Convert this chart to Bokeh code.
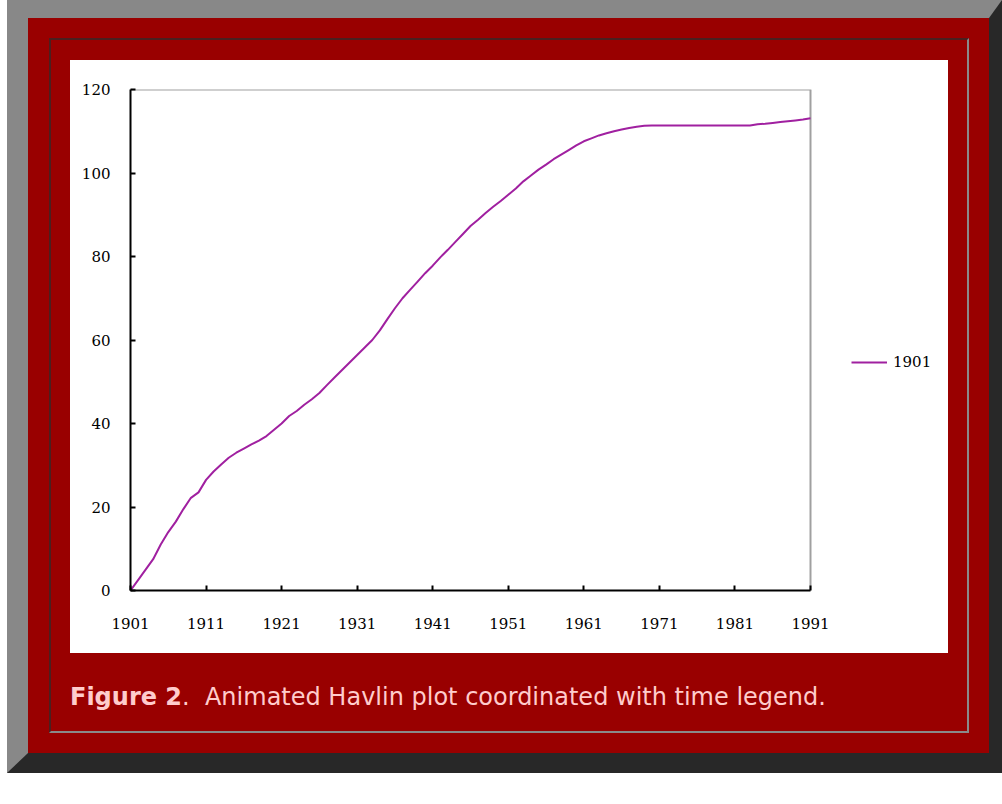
from bokeh.plotting import figure
from bokeh.models import Range1d, FixedTicker, Legend, LegendItem, Div, Column, ColumnDataSource
from bokeh.embed import file_html
from bokeh.resources import INLINE

# ---- data ----
years = list(range(1901, 1992))
values = [
    0.0, 2.5, 5.0, 7.5, 11.0, 14.0, 16.5, 19.5, 22.2, 23.5,      # 1901-1910
    26.5, 28.5, 30.2, 31.8, 33.0, 34.0, 35.0, 35.9, 37.0, 38.5,  # 1911-1920
    40.0, 41.8, 43.0, 44.5, 45.8, 47.3, 49.2, 51.0, 52.8, 54.6,  # 1921-1930
    56.4, 58.2, 60.0, 62.3, 65.0, 67.6, 70.0, 72.0, 74.0, 76.0,  # 1931-1940
    77.8, 79.8, 81.6, 83.5, 85.4, 87.3, 88.8, 90.4, 91.9, 93.3,  # 1941-1950
    94.8, 96.3, 98.0, 99.4, 100.8, 102.0, 103.3, 104.4, 105.5, 106.6,  # 1951-1960
    107.6, 108.3, 109.0, 109.5, 110.0, 110.4, 110.8, 111.1, 111.3, 111.4,  # 1961-1970
    111.4, 111.4, 111.4, 111.4, 111.4, 111.4, 111.4, 111.4, 111.4, 111.4,  # 1971-1980
    111.4, 111.4, 111.4, 111.7, 111.8, 112.0, 112.2, 112.4, 112.6, 112.8,  # 1981-1990
    113.1,                                                        # 1991
]
x_ticks = [1901, 1911, 1921, 1931, 1941, 1951, 1961, 1971, 1981, 1991]
y_ticks = [0, 20, 40, 60, 80, 100, 120]
series_name = "1901"
caption_bold = "Figure 2"
caption_rest = "Animated Havlin plot coordinated with time legend."

TICK_FONT = "DejaVu Serif"

# layout: the frame is widened to the right so the legend (outside the
# plotting box in the original) lies inside Bokeh's clipping region
FRAME_W = 818          # px, frame width (plot box 680 px + legend zone)
BOX_W = 680            # px, width of the visible plotting box
x_min, x_max = x_ticks[0], x_ticks[-1]
y_min, y_max = y_ticks[0], y_ticks[-1]
x_end = x_min + (x_max - x_min) * FRAME_W / BOX_W

src = ColumnDataSource(dict(year=years, value=values))

p = figure(
    width=878, height=593,
    x_range=Range1d(x_min, x_end), y_range=Range1d(y_min, y_max),
    output_backend="svg", toolbar_location=None,
    min_border_left=60, min_border_right=0,
    min_border_top=29, min_border_bottom=63,
    background_fill_color="white", border_fill_color="white",
    styles={"background-color": "white"},
)
p.outline_line_color = None
p.grid.visible = False

# grey top / right edges of the plotting box
p.line([x_min, x_max, x_max], [y_max, y_max, y_min],
       line_color="#a0a0a0", line_width=2)

r = p.line("year", "value", source=src, line_color="#a020a0", line_width=2)

for ax in (p.xaxis[0], p.yaxis[0]):
    ax.axis_line_color = "black"
    ax.axis_line_width = 2
    ax.major_tick_in = 5
    ax.major_tick_out = 0
    ax.major_tick_line_color = "black"
    ax.major_tick_line_width = 2
    ax.minor_tick_line_color = None
    ax.major_label_text_font = TICK_FONT
    ax.major_label_text_font_size = "15px"
    ax.major_label_text_color = "black"

p.xaxis.ticker = FixedTicker(ticks=x_ticks)
p.yaxis.ticker = FixedTicker(ticks=y_ticks)
p.xaxis.bounds = (x_min, x_max)
p.xaxis.major_label_standoff = 27
p.yaxis.major_label_standoff = 20

legend = Legend(
    items=[LegendItem(label=series_name, renderers=[r])],
    location=(721, 219),
    background_fill_alpha=0, border_line_alpha=0,
    padding=0, margin=0, spacing=0,
    glyph_width=36, glyph_height=16, label_height=16,
    label_standoff=6,
    label_text_font=TICK_FONT, label_text_font_size="15px",
    label_text_color="black",
)
p.add_layout(legend, "center")

caption = Div(
    text=(
        '<div style="font-family:\'DejaVu Sans\'; font-size:24px; line-height:28px; '
        'color:#ffcccc; padding-top:30px; white-space:nowrap;">'
        f'<b>{caption_bold}</b>.&nbsp; {caption_rest}</div>'
    ),
    width=878, height=78, margin=0,
)

inner = Column(
    children=[p, caption],
    styles={
        "border-style": "solid",
        "border-width": "2px",
        "border-color": "#4a2020 #8a8a8a #8a8a8a #4a2020",
        "padding": "20px 19px 0px 19px",
    },
)

outer = Column(
    children=[inner],
    margin=(0, 0, 0, 7),
    styles={
        "border-style": "solid",
        "border-width": "18px 13px 20px 21px",
        "border-color": "#888888 #282828 #282828 #888888",
        "padding": "20px 20px 20px 21px",
        "background-color": "#990000",
    },
)

open("out.html", "w").write(file_html(outer, INLINE))
